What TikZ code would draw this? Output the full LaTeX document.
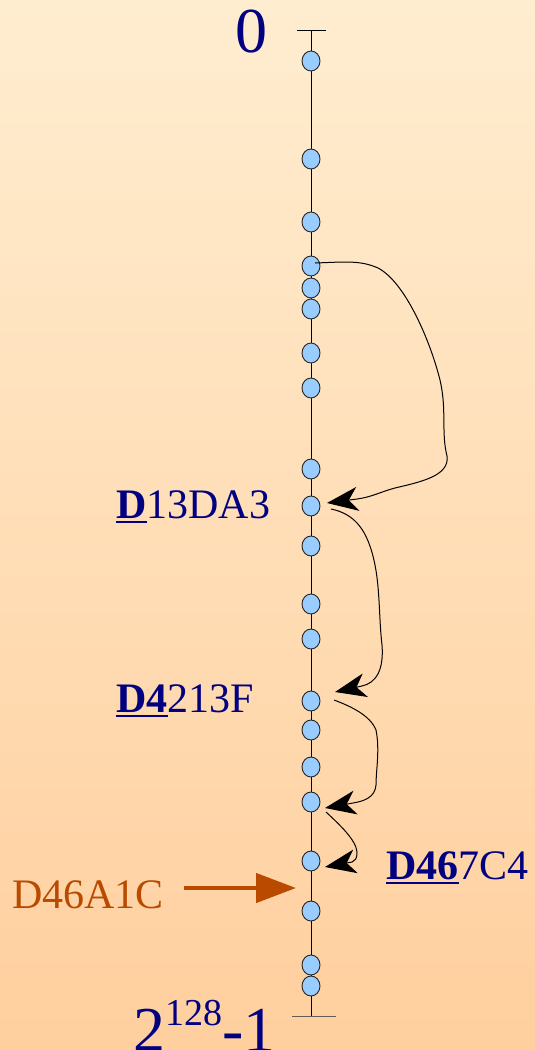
\documentclass[tikz,border=0pt]{standalone}
\usepackage{fontspec}
\setmainfont{Liberation Serif}
\usetikzlibrary{shapes.geometric,arrows.meta}
\definecolor{navy}{RGB}{0,0,128}
\definecolor{rust}{RGB}{185,74,0}
\definecolor{dotblue}{RGB}{153,204,255}
\definecolor{bgtop}{RGB}{255,237,208}
\definecolor{bgbot}{RGB}{255,207,158}
\definecolor{tickgray}{RGB}{100,90,80}
\newsavebox\ulbox
\newcommand\ulpart[1]{\sbox\ulbox{#1}\rlap{\rule[-5pt]{\wd\ulbox}{2pt}}\usebox\ulbox}
\begin{document}
\begin{tikzpicture}[x=1pt,y=-1pt,
  dot/.style={ellipse,draw=black!85,line width=0.9pt,fill=dotblue,minimum width=18pt,minimum height=20pt,inner sep=0pt},
  lbl/.style={inner sep=0pt,anchor=base west,text=navy,font=\fontsize{42}{42}\selectfont},
  hop/.style={draw=black,line width=1pt,-{Stealth[length=31pt,width=24pt,inset=9pt]}},
  probe/.style={draw=rust,line width=4.5pt,-{Triangle[length=40pt,width=29pt]}},
  axisline/.style={draw=black,line width=1pt}]
\shade[top color=bgtop,bottom color=bgbot] (0,0) rectangle (535,1050);
\useasboundingbox (0,0) rectangle (535,1050);

% axis
\coordinate (top) at (311,30);
\coordinate (bot) at (311,1016);
\draw[axisline] (top) -- (bot);
\draw[axisline] (297,30) -- (326,30);
\draw[draw=tickgray,line width=1pt] (292,1016) -- (336,1016);

% dots
\foreach \i/\yy in {1/61,2/159,3/222,4/266,5/288,6/309,7/353,8/388,9/469,10/506,11/546,12/604,13/639,14/701,15/730,16/767,17/802,18/861,19/911,20/965,21/986}
  \node[dot] (c\i) at (311,\yy) {};

% end labels
\node[inner sep=0pt,anchor=base,text=navy,font=\fontsize{64}{64}\selectfont] (zero) at (251,52) {0};
\node[inner sep=0pt,anchor=base west,text=navy,font=\fontsize{64}{64}\selectfont] (max) at (133,1051)
  {2\raisebox{26pt}{\fontsize{38}{38}\selectfont 128}-1};

% key labels
\node[lbl] (k1) at (116,518) {\ulpart{\bfseries D}13DA3};
\node[lbl] (k2) at (116,712) {\ulpart{\bfseries D4}213F};
\node[lbl] (k3) at (386,879) {\ulpart{\bfseries D46}7C4};
\node[lbl,text=rust] (q) at (12,908) {D46A1C};

% hops
\draw[hop] ([shift={(4,-3)}]c4.center) .. controls (345,262) and (360,260) .. (378,268)
  .. controls (405,282) and (430,340) .. (440,380)
  .. controls (447,410) and (441,432) .. (447,456)
  .. controls (450,476) and (420,482) .. (395,488)
  .. controls (380,492) and (372,497) .. (357,499)
  -- ([shift={(16,-3)}]c10.center);

\draw[hop] ([shift={(20,3)}]c10.center) .. controls (355,514) and (368,530) .. (375,565)
  .. controls (380,590) and (379,620) .. (382,645)
  .. controls (384,670) and (376,683) .. (362,686)
  -- ([shift={(24,-9)}]c14.center);

\draw[hop] ([shift={(23,-1)}]c14.center) .. controls (350,706) and (370,715) .. (376,730)
  .. controls (380,750) and (376,770) .. (376,785)
  .. controls (375,797) and (365,801) .. (353,803)
  -- ([shift={(14,6)}]c17.center);

\draw[hop] ([shift={(15,10)}]c17.center) .. controls (340,825) and (356,840) .. (357,852)
  .. controls (357,859) and (355,861) .. (352,862)
  -- ([shift={(14,6)}]c18.center);

% probe arrow
\coordinate (probeTip) at (296,888);
\draw[probe] ([shift={(20,-20)}]q.base east) -- (probeTip);
\end{tikzpicture}
\end{document}
